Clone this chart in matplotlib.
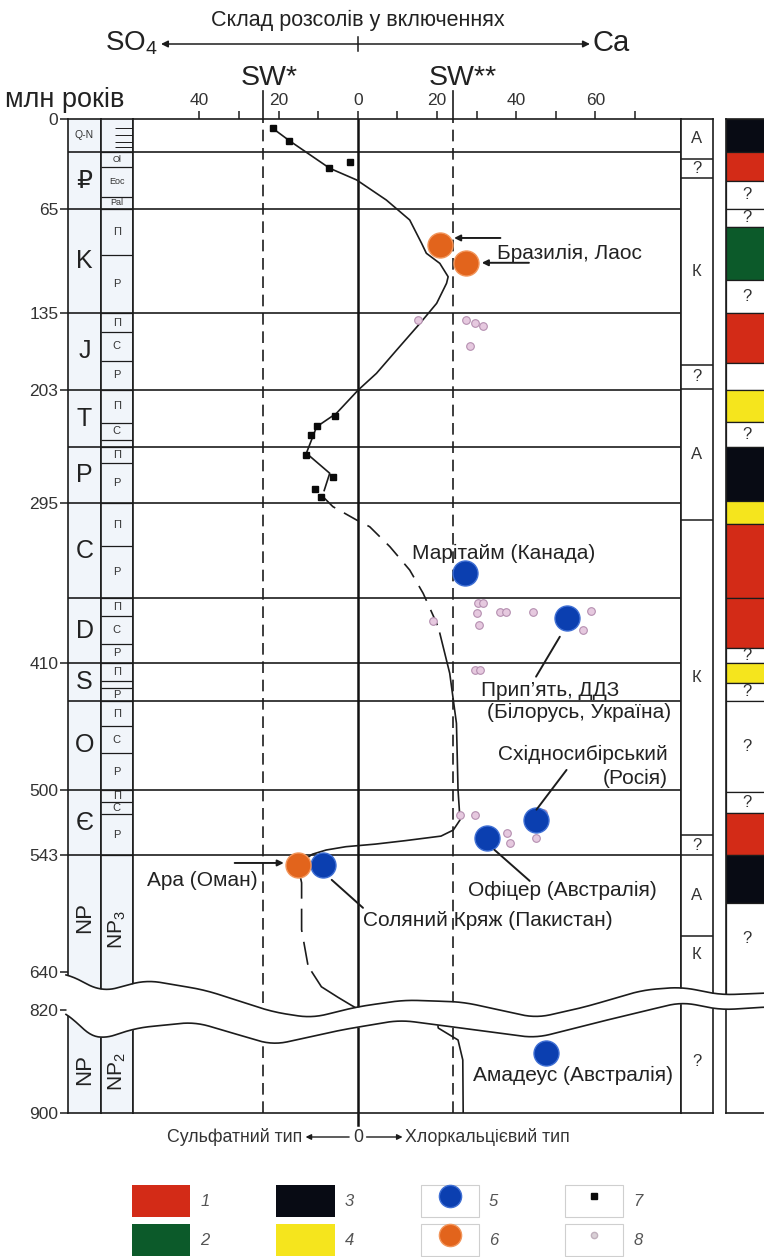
import numpy as np
import matplotlib
matplotlib.use('Agg')
import matplotlib.pyplot as plt
from matplotlib.transforms import blended_transform_factory as blend
from matplotlib.patches import Rectangle
from matplotlib.lines import Line2D

plt.rcParams['font.family'] = ['Liberation Sans', 'DejaVu Sans']
plt.rcParams['mathtext.fontset'] = 'custom'
plt.rcParams['mathtext.rm'] = 'Liberation Sans'

W, H = 764, 1257

############################################### age axis of the drawing (hand drawn, not to scale)
scale_age = [-1000, 0, 23, 65, 135, 203, 250, 295, 363, 410, 437, 500, 543, 640, 820, 900, 2000]
scale_pos = [-1316, 119, 152, 209, 313, 390, 447, 503, 598, 663, 701, 790, 855, 972, 1010, 1113, 2529]
age_ticks = [0, 65, 135, 203, 295, 410, 500, 543, 640, 820, 900]

top_ticks = list(range(-40, 80, 10))
top_labels = [str(abs(t)) if t % 20 == 0 else '' for t in top_ticks]
sw_lines = [-24, 24]

############################################### stratigraphy
period_bounds = [0, 23, 65, 135, 203, 250, 295, 363, 410, 437, 500, 543, 640]
period_names = ['Q-N', '₽', 'K', 'J', 'T', 'P', 'C', 'D', 'S', 'O', 'Є', 'NP']
epoch_bounds = [23, 34, 56, 65, 96, 135, 152, 177, 203, 230, 244, 250, 263, 295, 326,
                363, 376, 396, 410, 423, 428, 437, 455, 474, 500, 508, 516, 543]
epoch_names = ['Ol', 'Eoc', 'Pal', 'П', 'Р', 'П', 'С', 'Р', 'П', 'С', '', 'П', 'Р', 'П', 'Р',
               'П', 'С', 'Р', 'П', '', 'Р', 'П', 'С', 'Р', 'П', 'С', 'Р']
neogene_lines = [6, 11, 16, 19.5]

# А / К column (last box runs on under the break)
ak_bounds = [0, 28, 42, 181, 202, 307, 530, 543, 610, 800]
ak_names = ['А', '?', 'К', '?', 'А', 'К', '?', 'А', 'К']

# colour column: 1 red, 2 green, 3 black, 4 yellow
col_bounds = [0, 23, 44, 65, 77, 113, 135, 179, 203, 229, 250, 293, 310, 363, 399, 410,
              424, 437, 501, 515, 543, 583, 800]
col_kind = [3, 1, '?', '?', 2, '?', 1, '', 4, '?', 3, 4, 1, 1, '?', 4, '?', '?', '?', 1, 3, '?']
col_colors = {1: '#d32b17', 2: '#0c5a2a', 3: '#080b14', 4: '#f5e51d'}

############################################### brine composition curve
upper_x = [-21.5, -17.3, -7.1, -0.3, 7.2, 13.1, 16.1, 17.3, 20.7, 22.8, 22.4, 19.9, 15.7,
           9.8, 4.7, 0.1, -5.4, -10.4, -13.0, -7.1, -8.5]
upper_age = [6.5, 15.1, 35, 43.6, 58.4, 72.4, 88.1, 94.8, 101.6, 110.6, 115, 128.5, 144.1,
             167.7, 188.3, 203, 222.2, 233.3, 255, 271.1, 285]
dash_x = [-8.8, -6.3, -0.3, 3.0, 8.1, 13.1, 16.5, 19.9, 20.7]
dash_age = [290, 297.6, 307.2, 312, 326.3, 343, 359.7, 381.3, 388.5]
mid_x = [20.7, 23.2, 24.9, 25.3, 25.8, 24.1, 21.0, 12.0, 4.4, -3.0, -8.0, -11.5, -15.2]
mid_age = [388.5, 417.3, 452.8, 500, 519.8, 526.5, 530.5, 533.5, 535.8, 537.5, 539.7, 542.5, 551]
low_dash_x = [-14.6, -14.2, -14.2, -12.4, -11.6]
low_dash_age = [560, 566, 605, 638, 640]
low_arc_x = [-11.6, -9.2, -5.0, -1.8, -0.3]
low_arc_age = [640, 710, 760, 796, 812]
bottom_x = [20.0, 20.3, 25.3, 26.5, 26.6]
bottom_age = [826, 834, 843.3, 858.8, 900]

# 7 - squares
sq_x = [-21.5, -17.3, -7.4, -1.9, -5.7, -10.3, -11.9, -13.0, -6.2, -10.9, -9.2]
sq_age = [6.5, 15.1, 35.0, 30.6, 224.4, 232.6, 240.1, 256.4, 273.9, 284.1, 290.0]
# 8 - small dots
dot_x = [15.2, 27.4, 29.5, 31.6, 28.3, 30.4, 31.6, 30.0, 30.6, 35.9, 37.4, 44.3, 58.8, 56.9,
         19.0, 29.5, 30.8, 25.8, 29.5, 37.6, 38.4, 46.8, 45.0]
dot_age = [141.2, 141.2, 144.1, 146.5, 164.2, 366.8, 366.4, 374.1, 382.5, 373.3, 373.3, 373.3,
           372.5, 386.2, 379.6, 415, 415, 516.5, 516.5, 528.6, 535.2, 515.4, 531.9]
# 5 - blue, 6 - orange
blue_x = [27.0, 52.9, 45.0, 32.5, -8.9, 47.4]
blue_age = [345.3, 377.7, 519.8, 531.9, 551.3, 853.6]
orange_x = [20.7, 27.4, -15.1]
orange_age = [89.2, 101.6, 551.3]

site_text = ['Бразилія, Лаос', 'Марітайм (Канада)', 'Прип’ять, ДДЗ', '(Білорусь, Україна)',
             'Східносибірський', '(Росія)', 'Офіцер (Австралія)', 'Соляний Кряж (Пакистан)',
             'Ара (Оман)', 'Амадеус (Австралія)']
site_x = [35.1, 13.6, 31.2, 32.5, 78.3, 78.3, 27.9, 1.3, -25.3, 29.0]
site_age = [94.6, 330.8, 429.2, 444.8, 475.2, 491.5, 572, 597, 564.4, 870.5]
site_ha = ['left', 'left', 'left', 'left', 'right', 'right', 'left', 'left', 'right', 'left']

arrow_from = [(36.0, 84.5), (43.2, 101.2), (-31.1, 549.6)]
arrow_to = [(24.3, 84.5), (31.3, 101.2), (-18.7, 549.6)]
link_from = [(51.0, 391), (45.1, 513), (34.5, 539.6), (-6.6, 563.6)]
link_to = [(45.0, 419.7), (52.7, 485.8), (43.4, 564.5), (1.3, 586.8)]

# break symbol
wave_x = [66, 102, 146, 205, 273, 312, 356, 404, 463, 536, 585, 643, 682, 721, 764]
wave_top = [973, 992, 980, 990, 1012, 1018, 1007, 1000, 1002, 1018, 1007, 990, 987, 995, 993]
wave_bx = [66, 85, 100, 136, 195, 273, 341, 400, 453, 536, 599, 682, 721, 764]
wave_bot = [1010, 1033, 1040, 1028, 1022, 1045, 1030, 1020, 1027, 1038, 1022, 1002, 1010, 1007]

legend_labels = ['1', '2', '3', '4', '5', '6', '7', '8']


def fwd(a):
    return np.interp(a, scale_age, scale_pos)


def inv(p):
    return np.interp(p, scale_pos, scale_age)


def mid(a, b):
    return float(inv((fwd(a) + fwd(b)) / 2))


def box(x0, x1):
    return [x0 / W, 1 - 1113 / H, (x1 - x0) / W, (1113 - 119) / H]


ink = '#1c1c1c'
fig = plt.figure(figsize=(W / 100, H / 100), dpi=100)
axes = []
for x0, x1 in [(68, 101), (101, 132.5), (132.5, 681), (681, 712.5), (726, 772)]:
    a = fig.add_axes(box(x0, x1))
    a.set_yscale('function', functions=(fwd, inv))
    a.set_ylim(900, 0)
    a.set_xlim(0, 1)
    a.set_xticks([])
    a.set_yticks([])
    a.minorticks_off()
    for s in a.spines.values():
        s.set_linewidth(1.2)
        s.set_color(ink)
    axes.append(a)
ax_era, ax_sub, ax, ax_ak, ax_col = axes
ax_era.set_facecolor('#f1f5fa')
ax_sub.set_facecolor('#f1f5fa')
ax.set_xlim(-56.9, 81.6)

############################################### left columns
for a in (ax_era, ax_sub, ax):
    a.hlines(period_bounds[1:-1], 0, 1, transform=a.get_yaxis_transform(), color=ink, lw=1.2)
ax_sub.hlines(epoch_bounds, 0, 1, transform=ax_sub.get_yaxis_transform(), color=ink, lw=0.9)
ax_sub.hlines(neogene_lines, 0.45, 1, transform=ax_sub.get_yaxis_transform(), color=ink, lw=0.7)

for top, bot, name in zip(period_bounds[:-1], period_bounds[1:], period_names):
    if name == 'Q-N':
        ax_era.text(0.5, mid(top, bot), name, ha='center', va='center', fontsize=7.5, color='#333')
    elif name == 'NP':
        ax_era.text(0.5, 595, name, ha='center', va='center', fontsize=16, rotation=90, color='#222')
    else:
        ax_era.text(0.5, mid(top, bot), name, ha='center', va='center', fontsize=18, color='#222')
ax_era.text(0.5, 866, 'NP', ha='center', va='center', fontsize=16, rotation=90, color='#222')
ax_sub.text(0.5, 605, r'NP$_\mathregular{3}$', ha='center', va='center', fontsize=15, rotation=90, color='#222')
ax_sub.text(0.5, 868, r'NP$_\mathregular{2}$', ha='center', va='center', fontsize=15, rotation=90, color='#222')

for top, bot, name in zip(epoch_bounds[:-1], epoch_bounds[1:], epoch_names):
    if name:
        fs = 6.5 if name in ('Ol', 'Eoc', 'Pal') else 8
        ax_sub.text(0.5, mid(top, bot), name, ha='center', va='center', fontsize=fs, color='#333')

ax_era.set_yticks(age_ticks)
ax_era.set_yticklabels([str(t) for t in age_ticks])
ax_era.minorticks_off()
ax_era.tick_params(axis='y', length=6, width=1.1, labelsize=12.5, pad=1, colors=ink, labelcolor='#333')

############################################### right columns
ax_ak.hlines(ak_bounds[1:-1], 0, 1, transform=ax_ak.get_yaxis_transform(), color=ink, lw=1.1)
for top, bot, name in zip(ak_bounds[:-1], ak_bounds[1:], ak_names):
    ax_ak.text(0.5, mid(top, min(bot, 650)), name, ha='center', va='center', fontsize=12, color='#333')
ax_ak.text(0.5, mid(820, 900), '?', ha='center', va='center', fontsize=12, color='#333')

for top, bot, kind in zip(col_bounds[:-1], col_bounds[1:], col_kind):
    ax_col.bar(0.5, bot - top, bottom=top, width=1, color=col_colors.get(kind, 'white'),
               edgecolor=ink, lw=0.9)
    if kind == '?':
        ax_col.text(0.46, mid(top, min(bot, 650)), '?', ha='center', va='center', fontsize=12, color='#333')

############################################### main panel
tr_top = blend(ax.transData, ax.transAxes)
for v in sw_lines:
    ax.axvline(v, color=ink, lw=1.2, ls=(0, (7, 4)))
    ax.plot([v, v], [1, 1.028], transform=tr_top, color=ink, lw=1.2, clip_on=False)
ax.axvline(0, color='#111', lw=1.8)
ax.plot([0, 0], [0, -0.012], transform=tr_top, color='#111', lw=1.8, clip_on=False)

ax.xaxis.set_ticks_position('top')
ax.set_xticks(top_ticks)
ax.set_xticklabels(top_labels)
ax.tick_params(axis='x', direction='out', length=6, width=1.1, labelsize=12.5, pad=2,
               colors=ink, labelcolor='#333')

ax.plot(upper_x, upper_age, color=ink, lw=1.2, zorder=3)
ax.plot(dash_x, dash_age, color=ink, lw=1.2, ls=(0, (10, 6)), zorder=3)
ax.plot(mid_x, mid_age, color=ink, lw=1.2, zorder=3)
ax.plot(low_dash_x, low_dash_age, color=ink, lw=1.2, ls=(0, (14, 6)), zorder=3)
ax.plot(low_arc_x, low_arc_age, color=ink, lw=1.2, zorder=3)
ax.plot(bottom_x, bottom_age, color=ink, lw=1.2, zorder=3)

ax.plot(dot_x, dot_age, 'o', ms=5.5, mfc='#e6c9df', mec='#b58fb0', mew=0.8, zorder=4)
ax.plot(sq_x, sq_age, 's', ms=5, color='#0a0a0a', zorder=5)
ax.plot(blue_x, blue_age, 'o', ms=18, mfc='#0b3fb0', mec='#3f6fd4', mew=1.0, zorder=6)
ax.plot(orange_x, orange_age, 'o', ms=18, mfc='#e2641c', mec='#f2955a', mew=1.0, zorder=6)

for (x0, y0), (x1, y1) in zip(arrow_from, arrow_to):
    ax.annotate('', xy=(x1, y1), xytext=(x0, y0),
                arrowprops=dict(arrowstyle='-|>', color=ink, lw=1.4, mutation_scale=9,
                                shrinkA=0, shrinkB=0), zorder=7)
for (x0, y0), (x1, y1) in zip(link_from, link_to):
    ax.annotate('', xy=(x1, y1), xytext=(x0, y0),
                arrowprops=dict(arrowstyle='-', color=ink, lw=1.4, shrinkA=0, shrinkB=0), zorder=7)
for txt, x, y, ha in zip(site_text, site_x, site_age, site_ha):
    ax.text(x, y, txt, ha=ha, va='center', fontsize=15, color='#222', zorder=8)

############################################### header / footer
hdr = blend(ax.transData, fig.transFigure)
ax.text(0, 1 - 20 / H, 'Склад розсолів у включеннях', transform=hdr, ha='center', va='center',
        fontsize=15.5, color='#222')
ax.annotate('', xy=(58.6, 1 - 44 / H), xytext=(-49.7, 1 - 44 / H), xycoords=hdr, textcoords=hdr,
            arrowprops=dict(arrowstyle='<|-|>', color=ink, lw=1.1, mutation_scale=10,
                            shrinkA=0, shrinkB=0), annotation_clip=False)
ax.plot([0, 0], [1 - 37 / H, 1 - 51 / H], transform=hdr, color=ink, lw=1.1, clip_on=False)
fig.text(158 / W, 1 - 43 / H, r'SO$_\mathregular{4}$', ha='right', va='center', fontsize=20, color='#222')
fig.text(592 / W, 1 - 43 / H, 'Ca', ha='left', va='center', fontsize=21, color='#222')
ax.text(-29.5, 1 - 78 / H, 'SW*', transform=hdr, ha='left', va='center', fontsize=20.5, color='#222')
ax.text(17.9, 1 - 78 / H, 'SW**', transform=hdr, ha='left', va='center', fontsize=20.5, color='#222')
fig.text(5 / W, 1 - 100 / H, 'млн років', ha='left', va='center', fontsize=19.5, color='#222')

yb = 1 - 1137 / H
ax.text(-14.1, yb, 'Сульфатний тип', transform=hdr, ha='right', va='center', fontsize=12.8, color='#333')
ax.text(0, yb, '0', transform=hdr, ha='center', va='center', fontsize=12.8, color='#333')
ax.text(12, yb, 'Хлоркальцієвий тип', transform=hdr, ha='left', va='center', fontsize=12.8, color='#333')
for x0, x1 in [(-2.2, -13.2), (2.2, 11.3)]:
    ax.annotate('', xy=(x1, yb), xytext=(x0, yb), xycoords=hdr, textcoords=hdr,
                arrowprops=dict(arrowstyle='-|>', color=ink, lw=1.0, mutation_scale=8,
                                shrinkA=0, shrinkB=0), annotation_clip=False)

############################################### legend
frame = dict(fc='white', ec='#cfcfcf', lw=0.8)
handles = [Rectangle((0, 0), 1, 1, fc=col_colors[k], ec='none') for k in (1, 2, 3, 4)]
handles += [(Rectangle((0, 0), 1, 1, **frame),
             Line2D([], [], ls='', marker='o', ms=16, mfc='#0b3fb0', mec='#3f6fd4')),
            (Rectangle((0, 0), 1, 1, **frame),
             Line2D([], [], ls='', marker='o', ms=16, mfc='#e2641c', mec='#f2955a')),
            (Rectangle((0, 0), 1, 1, **frame),
             Line2D([], [], ls='', marker='s', ms=5, color='#0a0a0a')),
            (Rectangle((0, 0), 1, 1, **frame),
             Line2D([], [], ls='', marker='o', ms=4.5, mfc='#d9d0d6', mec='#c0b0bc'))]
leg = fig.legend(handles, legend_labels, ncol=4, loc='upper left',
                 bbox_to_anchor=(132 / W, 1 - 1185 / H), frameon=False, fontsize=12,
                 handlelength=3.5, handleheight=2.58, handletextpad=0.6, columnspacing=4.0,
                 labelspacing=0.42, borderpad=0, borderaxespad=0)
for t in leg.get_texts():
    t.set_style('italic')
    t.set_color('#555')

############################################### break of the time scale
ov = fig.add_axes([0, 0, 1, 1], zorder=20)
ov.set_xlim(0, W)
ov.set_ylim(H, 0)
ov.set_axis_off()
xd = np.linspace(66, 764, 500)
k = np.ones(21) / 21
yt = np.convolve(np.pad(np.interp(xd, wave_x, wave_top), 10, mode='edge'), k, mode='valid')
ybt = np.convolve(np.pad(np.interp(xd, wave_bx, wave_bot), 10, mode='edge'), k, mode='valid')
ov.fill_between(xd, yt, ybt, color='white', lw=0)
ov.plot(xd, yt, color=ink, lw=1.2)
ov.plot(xd, ybt, color=ink, lw=1.2)

fig.savefig('out.png', dpi=100)
